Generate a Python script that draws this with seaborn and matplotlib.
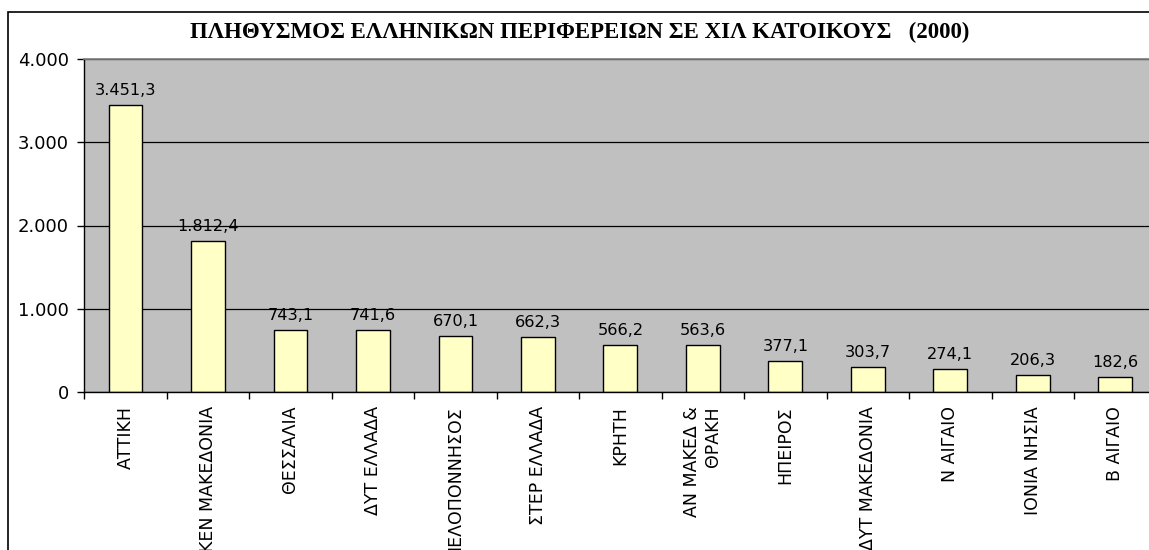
import numpy as np
import pandas as pd
import seaborn as sns
import matplotlib.pyplot as plt
from matplotlib.patches import Rectangle
from matplotlib.ticker import FixedLocator, FuncFormatter

# δεδομένα (χιλ. κάτοικοι, 2000)
regions = ["ΑΤΤΙΚΗ", "ΚΕΝ ΜΑΚΕΔΟΝΙΑ", "ΘΕΣΣΑΛΙΑ", "ΔΥΤ ΕΛΛΑΔΑ", "ΠΕΛΟΠΟΝΝΗΣΟΣ",
           "ΣΤΕΡ ΕΛΛΑΔΑ", "ΚΡΗΤΗ", "ΑΝ ΜΑΚΕΔ &\nΘΡΑΚΗ", "ΗΠΕΙΡΟΣ", "ΔΥΤ ΜΑΚΕΔΟΝΙΑ",
           "Ν ΑΙΓΑΙΟ", "ΙΟΝΙΑ ΝΗΣΙΑ", "Β ΑΙΓΑΙΟ"]
population = [3451.3, 1812.4, 743.1, 741.6, 670.1, 662.3, 566.2, 563.6,
              377.1, 303.7, 274.1, 206.3, 182.6]
y_ticks = [0, 1000, 2000, 3000, 4000]

df = pd.DataFrame({"region": regions, "pop": population})


def gr_num(v, decimals=0):
    s = f"{v:,.{decimals}f}"
    return s.replace(",", "X").replace(".", ",").replace("X", ".")


sns.set_theme(style="white")
plt.rcParams["font.family"] = ["DejaVu Sans"]
plt.rcParams["text.color"] = "black"
plt.rcParams["xtick.color"] = "black"
plt.rcParams["ytick.color"] = "black"

W, H = 1149, 550
fig = plt.figure(figsize=(W / 100, H / 100), dpi=100)
fig.patch.set_facecolor("white")

# εξωτερικό πλαίσιο γραφήματος
fig.add_artist(Rectangle((8 / W, -0.1), 1.2, 1 - 12 / H + 0.1,
                         transform=fig.transFigure, fill=False,
                         edgecolor="black", linewidth=1.2))

left, right, top, bottom = 84.3, 1156.5, 59, 392
ax = fig.add_axes([left / W, 1 - bottom / H, (right - left) / W, (bottom - top) / H])
ax.set_facecolor("#C0C0C0")

sns.barplot(data=df, x="region", y="pop", ax=ax, color="#FFFFC6",
            edgecolor="black", linewidth=1.0, width=0.41, saturation=1)

ax.set_xlim(-0.5, len(regions) - 0.5)
ax.set_ylim(0, 4000)
ax.set_yticks(y_ticks)
ax.yaxis.set_major_formatter(FuncFormatter(lambda v, p: gr_num(v)))
ax.grid(axis="y", color="black", linewidth=0.9)
ax.set_axisbelow(True)

ax.set_xlabel("")
ax.set_ylabel("")
ax.set_xticks(range(len(regions)))
ax.set_xticklabels(regions, rotation=90, fontsize=12.5, va="top", ha="center",
                   multialignment="right")
ax.tick_params(axis="x", which="major", length=0, pad=10)
ax.xaxis.set_minor_locator(FixedLocator(np.arange(-0.5, len(regions), 1)))
ax.tick_params(axis="x", which="minor", length=5, width=1, color="black",
               direction="out", bottom=True)
ax.tick_params(axis="y", length=5, width=1, color="black", direction="out",
               left=True, labelsize=13, pad=6)

for side in ["left", "bottom"]:
    ax.spines[side].set_color("black")
    ax.spines[side].set_linewidth(1.0)
ax.spines["top"].set_color("#808080")
ax.spines["right"].set_color("#808080")

for i, v in enumerate(population):
    ax.annotate(gr_num(v, 1), (i, v), xytext=(0, 5), textcoords="offset points",
                ha="center", va="bottom", fontsize=11.6, color="black")

fig.text(580 / W, 1 - 32 / H,
         "ΠΛΗΘΥΣΜΟΣ ΕΛΛΗΝΙΚΩΝ ΠΕΡΙΦΕΡΕΙΩΝ ΣΕ ΧΙΛ ΚΑΤΟΙΚΟΥΣ   (2000)",
         ha="center", va="center", fontsize=16.5, fontweight="bold",
         family=["Liberation Serif"], color="black")

fig.savefig("out.png", dpi=100)
